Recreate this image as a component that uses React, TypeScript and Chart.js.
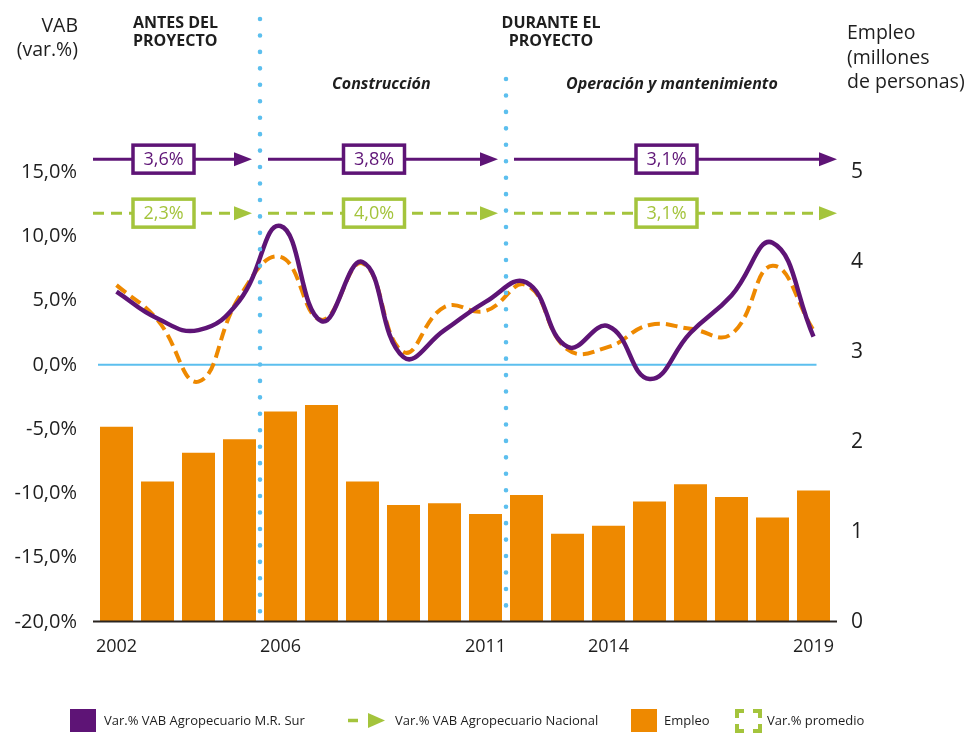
import React, { useEffect, useRef } from "react";
import { Chart, registerables } from "chart.js";

Chart.register(...registerables);

// ---------- data ----------
const years = [
  "2002", "2003", "2004", "2005", "2006", "2007", "2008", "2009", "2010",
  "2011", "2012", "2013", "2014", "2015", "2016", "2017", "2018", "2019",
];
const labeledYears = ["2002", "2006", "2011", "2014", "2019"];
const vabSur = [5.7, 3.6, 2.7, 5.0, 10.8, 3.4, 8.0, 0.6, 2.7, 4.9, 6.4, 1.4, 3.0, -1.1, 2.5, 5.4, 9.5, 2.2];
const vabNacional = [6.2, 3.5, -1.3, 5.3, 8.4, 3.5, 7.9, 1.0, 4.5, 4.2, 6.2, 1.2, 1.4, 3.1, 2.8, 2.4, 7.7, 2.7];
const empleo = [2.17, 1.56, 1.88, 2.03, 2.34, 2.41, 1.56, 1.3, 1.32, 1.2, 1.41, 0.98, 1.07, 1.34, 1.53, 1.39, 1.16, 1.46];
const vabTicks = [-20, -15, -10, -5, 0, 5, 10, 15];
const empleoTicks = [0, 1, 2, 3, 4, 5];
const periodFirstYear = ["2002", "2006", "2012"];
const periodLastYear = ["2005", "2011", "2019"];
const promedioSur = [3.6, 3.8, 3.1];
const promedioNacional = [2.3, 4.0, 3.1];

// ---------- styles ----------
const PURPLE = "#5e1476";
const ORANGE = "#ee8900";
const GREEN = "#a4c43c";
const BLUE = "#5cbfee";
const TEXT = "#1e1e1e";
const FONT = "'Open Sans', 'Noto Sans', sans-serif";

const fmtPct = (v: number) => v.toFixed(1).replace(".", ",") + "%";

const overlayPlugin = {
  id: "overlay",
  beforeDatasetsDraw(chart: any) {
    const { ctx, chartArea, scales } = chart;
    const x = scales.x;
    const y0 = scales.y.getPixelForValue(0);
    ctx.save();
    ctx.strokeStyle = BLUE;
    ctx.lineWidth = 2;
    ctx.beginPath();
    ctx.moveTo(chartArea.left + 2, y0);
    ctx.lineTo(x.getPixelForValue(years.length - 1) + 3, y0);
    ctx.stroke();
    ctx.restore();
  },
  afterDatasetsDraw(chart: any) {
    const { ctx, chartArea, scales } = chart;
    const x = scales.x;
    ctx.save();
    // baseline axis
    ctx.strokeStyle = "#2a2420";
    ctx.lineWidth = 2;
    ctx.beginPath();
    ctx.moveTo(chartArea.left - 3, chartArea.bottom - 0.5);
    ctx.lineTo(chartArea.right + 3, chartArea.bottom - 0.5);
    ctx.stroke();
    // dotted period dividers
    const tops = [19, 79];
    ctx.strokeStyle = BLUE;
    ctx.lineWidth = 4.6;
    ctx.lineCap = "round";
    ctx.setLineDash([0, 16.45]);
    periodLastYear.slice(0, -1).forEach((yr, i) => {
      const px = x.getPixelForValue(years.indexOf(yr) + 0.5);
      ctx.beginPath();
      ctx.moveTo(px, tops[i]);
      ctx.lineTo(px, chartArea.bottom - 3);
      ctx.stroke();
    });
    ctx.restore();
  },
  afterDraw(chart: any) {
    const { ctx, scales } = chart;
    const x = scales.x;
    const y = scales.y;
    const n = periodFirstYear.length;
    const segs = periodFirstYear.map((fy, i) => {
      const left = x.getPixelForValue(years.indexOf(fy) - 0.5);
      const right = x.getPixelForValue(years.indexOf(periodLastYear[i]) + 0.5);
      const x0 = i === 0 ? left - 3 : left + 8;
      const x1 = i === n - 1 ? right + 3 : right - 8;
      return { x0, x1, cx: (x0 + x1 - 18) / 2 };
    });
    const drawRow = (rowY: number, color: string, dashed: boolean, vals: number[]) => {
      segs.forEach((s, i) => {
        ctx.save();
        ctx.strokeStyle = color;
        ctx.lineWidth = 3;
        ctx.setLineDash(dashed ? [11, 7] : []);
        ctx.beginPath();
        ctx.moveTo(s.x0, rowY);
        ctx.lineTo(s.x1 - 15, rowY);
        ctx.stroke();
        ctx.setLineDash([]);
        ctx.fillStyle = color;
        ctx.beginPath();
        ctx.moveTo(s.x1, rowY);
        ctx.lineTo(s.x1 - 18, rowY - 7);
        ctx.lineTo(s.x1 - 18, rowY + 7);
        ctx.closePath();
        ctx.fill();
        ctx.fillStyle = "#ffffff";
        ctx.fillRect(s.cx - 30.5, rowY - 14, 61, 28);
        ctx.lineWidth = 3.5;
        ctx.strokeRect(s.cx - 30.5, rowY - 14, 61, 28);
        ctx.fillStyle = color;
        ctx.font = `18px ${FONT}`;
        ctx.textAlign = "center";
        ctx.textBaseline = "middle";
        ctx.fillText(fmtPct(vals[i]), s.cx, rowY + 1);
        ctx.restore();
      });
    };
    drawRow(y.getPixelForValue(16.0), PURPLE, false, promedioSur);
    drawRow(y.getPixelForValue(11.8), GREEN, true, promedioNacional);
  },
};

const abs = (s: any) => ({ position: "absolute", fontFamily: FONT, color: TEXT, whiteSpace: "nowrap", ...s });

export default function App() {
  const ref = useRef<HTMLCanvasElement | null>(null);

  useEffect(() => {
    document.body.style.margin = "0";
    if (!ref.current) return;
    const chart = new Chart(ref.current, {
      type: "bar",
      data: {
        labels: years,
        datasets: [
          {
            type: "line",
            label: "Var.% VAB Agropecuario M.R. Sur",
            data: vabSur,
            yAxisID: "y",
            borderColor: PURPLE,
            borderWidth: 4.5,
            pointRadius: 0,
            tension: 0.45,
            fill: false,
            order: 0,
          } as any,
          {
            type: "line",
            label: "Var.% VAB Agropecuario Nacional",
            data: vabNacional,
            yAxisID: "y",
            borderColor: ORANGE,
            borderWidth: 4,
            borderDash: [12, 6],
            pointRadius: 0,
            tension: 0.45,
            fill: false,
            order: 1,
          } as any,
          {
            type: "bar",
            label: "Empleo",
            data: empleo,
            yAxisID: "y1",
            backgroundColor: ORANGE,
            categoryPercentage: 1,
            barPercentage: 0.805,
            order: 2,
          } as any,
        ],
      },
      options: {
        responsive: false,
        animation: false,
        devicePixelRatio: 1,
        layout: { padding: { top: 172, left: 0, right: 0, bottom: 0 } },
        plugins: { legend: { display: false }, tooltip: { enabled: false } },
        scales: {
          x: {
            offset: true,
            grid: { display: false, drawTicks: false },
            border: { display: false },
            ticks: {
              autoSkip: false,
              maxRotation: 0,
              padding: 14,
              color: TEXT,
              font: { family: FONT, size: 18 },
              callback: (_v: any, i: number) => (labeledYears.includes(years[i]) ? years[i] : ""),
            },
            afterFit: (s: any) => {
              s.height = 111;
            },
          },
          y: {
            position: "left",
            min: vabTicks[0],
            max: vabTicks[vabTicks.length - 1],
            grid: { display: false, drawTicks: false },
            border: { display: false },
            afterBuildTicks: (s: any) => {
              s.ticks = vabTicks.map((v) => ({ value: v }));
            },
            ticks: {
              padding: 19,
              color: TEXT,
              font: { family: FONT, size: 20 },
              callback: (v: any) => fmtPct(Number(v)),
            },
            afterFit: (s: any) => {
              s.width = 96;
            },
          },
          y1: {
            position: "right",
            min: empleoTicks[0],
            max: empleoTicks[empleoTicks.length - 1],
            grid: { display: false, drawTicks: false },
            border: { display: false },
            afterBuildTicks: (s: any) => {
              s.ticks = empleoTicks.map((v) => ({ value: v }));
            },
            ticks: {
              padding: 17,
              color: TEXT,
              font: { family: FONT, size: 21 },
              callback: (v: any) => String(v),
            },
            afterFit: (s: any) => {
              s.width = 135;
            },
          },
        },
      } as any,
      plugins: [overlayPlugin],
    });
    return () => chart.destroy();
  }, []);

  const legendText = { fontSize: 13, lineHeight: "23px" };

  return (
    <div style={{ position: "relative", width: 969, height: 733, overflow: "hidden" }}>
      <canvas ref={ref} width={969} height={733} style={{ position: "absolute", left: 0, top: 0, width: 969, height: 733 }} />

      <div style={abs({ right: 969 - 78, top: 13, fontSize: 19.5, lineHeight: "24px", textAlign: "right" })}>
        VAB
        <br />
        (var.%)
      </div>
      <div style={abs({ left: 133, top: 13, fontSize: 16, lineHeight: "18.4px", fontWeight: 700 })}>
        ANTES DEL
        <br />
        PROYECTO
      </div>
      <div style={abs({ left: 451, width: 200, top: 13, fontSize: 16, lineHeight: "18.4px", fontWeight: 700, textAlign: "center" })}>
        DURANTE EL
        <br />
        PROYECTO
      </div>
      <div style={abs({ left: 332, top: 73, fontSize: 16, lineHeight: "20px", fontWeight: 700, fontStyle: "italic" })}>
        Construcción
      </div>
      <div style={abs({ left: 566, top: 73, fontSize: 16, lineHeight: "20px", fontWeight: 700, fontStyle: "italic" })}>
        Operación y mantenimiento
      </div>
      <div style={abs({ left: 847, top: 20, fontSize: 19.5, lineHeight: "24.5px" })}>
        Empleo
        <br />
        (millones
        <br />
        de personas)
      </div>

      {/* legend */}
      <div style={abs({ left: 70, top: 709, width: 26, height: 23, background: PURPLE })} />
      <div style={abs({ left: 104, top: 709, ...legendText })}>Var.% VAB Agropecuario M.R. Sur</div>

      <svg style={{ position: "absolute", left: 347, top: 712 }} width={40} height={17}>
        <line x1={1} y1={8.5} x2={11} y2={8.5} stroke={GREEN} strokeWidth={3.5} />
        <polygon points="21,1 38,8.5 21,16" fill={GREEN} />
      </svg>
      <div style={abs({ left: 395, top: 709, ...legendText })}>Var.% VAB Agropecuario Nacional</div>

      <div style={abs({ left: 631, top: 709, width: 26, height: 23, background: ORANGE })} />
      <div style={abs({ left: 664, top: 709, ...legendText })}>Empleo</div>

      <svg style={{ position: "absolute", left: 735, top: 709 }} width={27} height={24}>
        <g stroke={GREEN} strokeWidth={4} fill="none">
          <polyline points="2,9 2,2 9,2" />
          <polyline points="18,2 25,2 25,9" />
          <polyline points="2,15 2,22 9,22" />
          <polyline points="18,22 25,22 25,15" />
        </g>
      </svg>
      <div style={abs({ left: 767, top: 709, ...legendText })}>Var.% promedio</div>
    </div>
  );
}
